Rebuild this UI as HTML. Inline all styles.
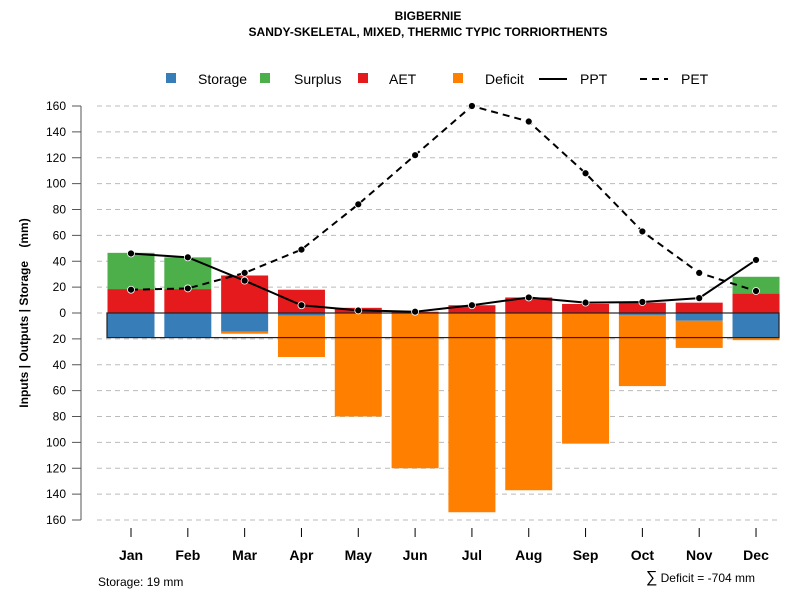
<!DOCTYPE html>
<html><head><meta charset="utf-8"><style>
body{margin:0;background:#fff}
svg{display:block;font-family:"Liberation Sans",sans-serif}
</style></head><body>
<svg id="c" width="800" height="600">
<text x="428" y="20" text-anchor="middle" font-size="12" font-weight="bold">BIGBERNIE</text>
<text x="428" y="36" text-anchor="middle" font-size="12" font-weight="bold">SANDY-SKELETAL, MIXED, THERMIC TYPIC TORRIORTHENTS</text>
<g id="legend">
<rect x="166" y="73" width="10" height="10" fill="#377EB8"/><text x="198" y="84" font-size="14">Storage</text>
<rect x="260" y="73" width="10" height="10" fill="#4DAF4A"/><text x="294" y="84" font-size="14">Surplus</text>
<rect x="358" y="73" width="10" height="10" fill="#E41A1C"/><text x="389" y="84" font-size="14">AET</text>
<rect x="453" y="73" width="10" height="10" fill="#FF7F00"/><text x="485" y="84" font-size="14">Deficit</text>
<line x1="539" y1="79" x2="567" y2="79" stroke="#000" stroke-width="2"/><text x="580" y="84" font-size="14">PPT</text>
<line x1="640" y1="79" x2="668" y2="79" stroke="#000" stroke-width="2" stroke-dasharray="7,5"/><text x="681" y="84" font-size="14">PET</text>
</g>
<text transform="translate(28,313) rotate(-90)" text-anchor="middle" font-size="12" font-weight="bold">Inputs | Outputs | Storage&#160;&#160;&#160;&#160;(mm)</text>
<g id="grid"></g><g id="bars"></g><g id="lines"></g><g id="axes"></g>
<text x="98" y="586" font-size="12">Storage: 19 mm</text>
<text x="755" y="582" text-anchor="end" font-size="12"><tspan font-size="16">∑</tspan> Deficit = -704 mm</text>
</svg>
<script>
const months=["Jan","Feb","Mar","Apr","May","Jun","Jul","Aug","Sep","Oct","Nov","Dec"];
const aet=[18.5,18.5,29,18,4,1,6,12,7,8,8,15];
const surplus=[28,24.5,0,0,0,0,0,0,0,0,0,13];
const storage=[19,19,14.5,2,0,0,0,0,0,1.5,6,19];
const deficit=[0,0,1.5,32,80,120,154,137,101,55,21,2];
const ppt=[46,43,25,6,2,1,6,12,8,8.5,11.5,41];
const pet=[18,19,31,49,84,122,160,148,108,63,31,17];
const yTicks=[160,140,120,100,80,60,40,20,0,-20,-40,-60,-80,-100,-120,-140,-160];
const soilStorage=19;
const NS="http://www.w3.org/2000/svg";
const y=v=>313-v*207/160;
const x=i=>131+i*56.82;
function mk(tag,attrs,parent){const e=document.createElementNS(NS,tag);for(const k in attrs)e.setAttribute(k,attrs[k]);document.getElementById(parent).appendChild(e);return e;}
yTicks.forEach(t=>{
 const g=mk("line",{x1:97,x2:779,y1:y(t),y2:y(t),stroke:"#bbb","stroke-dasharray":"5,4"},"grid");
 
 
 const tk=mk("line",{x1:72,x2:81,y1:y(t),y2:y(t),stroke:"#555"},"axes");
 
 
 const tx=mk("text",{x:66,y:y(t)+4,"text-anchor":"end","font-size":12},"axes");
 tx.textContent=Math.abs(t);
 
 
});
mk("line",{x1:81,x2:81,y1:y(160),y2:y(-160),stroke:"#555"},"axes");
const bw=47;
months.forEach((m,i)=>{
 const x0=x(i)-bw/2;
 const r=(v0,v1,c,n)=>{if(v1===v0)return;const e=mk("rect",{x:x0,width:bw,y:y(Math.max(v0,v1)),height:Math.abs(y(v0)-y(v1)),fill:c},"bars");
  
  };
 r(0,aet[i],"#E41A1C","aet-bar-"+m.toLowerCase());
 r(aet[i],aet[i]+surplus[i],"#4DAF4A","surplus-bar-"+m.toLowerCase());
 r(0,-storage[i],"#377EB8","storage-bar-"+m.toLowerCase());
 r(-storage[i],-storage[i]-deficit[i],"#FF7F00","deficit-bar-"+m.toLowerCase());
 const tk=mk("line",{x1:x(i),x2:x(i),y1:528,y2:537,stroke:"#000"},"axes");
 
 
 const lb=mk("text",{x:x(i),y:560,"text-anchor":"middle","font-size":14,"font-weight":"bold"},"axes");
 lb.textContent=m;
 
 
});
const sb=mk("rect",{x:107,width:672,y:y(0),height:y(-soilStorage)-y(0),fill:"none",stroke:"#222","stroke-width":1.2},"bars");


[[ppt,"","ppt-line"],[pet,"7,5","pet-line"]].forEach(([d,da,n])=>{
 const p=mk("polyline",{points:d.map((v,i)=>x(i)+","+y(v)).join(" "),fill:"none",stroke:"#000","stroke-width":2,"stroke-dasharray":da},"lines");
 
 
 d.forEach((v,i)=>{const c=mk("circle",{cx:x(i),cy:y(v),r:3.5,fill:"#000",stroke:"#fff","stroke-width":0.8},"lines");
  
  });
});
</script>
</body></html>
